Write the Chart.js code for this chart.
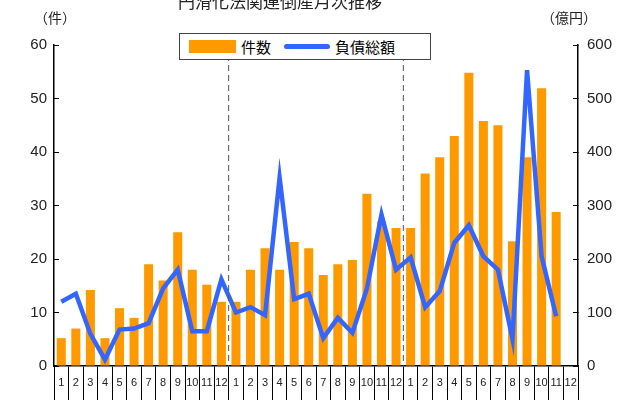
<!DOCTYPE html>
<html><head><meta charset="utf-8">
<script src="https://cdn.jsdelivr.net/npm/chart.js@4"></script>
<style>
body{margin:0;background:#fff;font-family:"Noto Sans CJK JP",sans-serif;}
#wrap{position:relative;width:640px;height:400px;overflow:hidden;}
.t{position:absolute;color:#222;font-size:14px;}
#legend{position:absolute;left:179px;top:33px;width:252px;height:27px;border:1px solid #444;background:#fff;font-size:15px;display:flex;align-items:center;box-sizing:border-box;}
</style></head><body>
<div id="wrap">
<canvas id="c" width="640" height="400"></canvas>
<div class="t" style="left:178px;top:-12px;font-size:17px;">円滑化法関連倒産月次推移</div>
<div class="t" style="left:34px;top:7px;">（件）</div>
<div class="t" style="left:541px;top:7px;">（億円）</div>
<div id="legend">
 <span style="display:inline-block;width:47px;height:13px;background:#ff9900;margin-left:9px;"></span>
 <span style="margin-left:5px;">件数</span>
 <span style="display:inline-block;width:46px;height:5px;border-radius:3px;background:#3366ff;margin-left:13px;"></span>
 <span style="margin-left:5px;">負債総額</span>
</div>
</div>
<script>
const months = [1,2,3,4,5,6,7,8,9,10,11,12,1,2,3,4,5,6,7,8,9,10,11,12,1,2,3,4,5,6,7,8,9,10,11,12].map(String);
const counts = [5.2,7,14.2,5.2,10.8,9,19,16,25,18,15.2,12,
  12,18,22,18,23.2,22,17,19,19.8,32.2,27,25.8,
  25.8,36,39,43,54.8,45.8,45,23.3,39,51.9,28.8,null];
const debt = [120,135,60,12,68,70,80,145,180,65,65,162,
  100,110,95,352,125,135,52,90,62,145,283,180,
  203,110,140,230,263,205,180,50,553,205,93,null];

const yearLines = {
  id: "yearLines",
  afterDatasetsDraw(chart) {
    const {ctx, chartArea, scales} = chart;
    ctx.save();
    ctx.strokeStyle = "#555";
    ctx.lineWidth = 1;
    ctx.setLineDash([6, 4]);
    [11.5, 23.5].forEach(v => {
      const x = (scales.x.getPixelForValue(Math.floor(v)) + scales.x.getPixelForValue(Math.ceil(v))) / 2;
      ctx.beginPath();
      ctx.moveTo(x, chartArea.top);
      ctx.lineTo(x, chartArea.bottom);
      ctx.stroke();
    });
    ctx.restore();
  }
};

const tickFont = {family: "Liberation Sans, sans-serif", size: 15};
new Chart(document.getElementById("c"), {
  data: {
    labels: months,
    datasets: [
      {type: "line", data: debt, yAxisID: "y2", borderColor: "#3366ff", borderWidth: 4.5,
       pointRadius: 0, tension: 0, order: 0},
      {type: "bar", data: counts, yAxisID: "y", backgroundColor: "#ff9900",
       categoryPercentage: 1, barPercentage: 0.62, order: 1}
    ]
  },
  options: {
    responsive: false,
    animation: false,
    layout: {padding: {top: 45}},
    plugins: {legend: {display: false}, tooltip: {enabled: false}},
    scales: {
      x: {
        offset: true,
        grid: {offset: true, drawOnChartArea: false, tickLength: 34, color: "#000"},
        border: {color: "#000", width: 1.5},
        ticks: {color: "#222", font: {size: 11}, padding: -24, maxRotation: 0, autoSkip: false},
        afterFit(s) { s.height = 34; }
      },
      y: {
        position: "left", min: 0, max: 60,
        ticks: {stepSize: 10, color: "#222", font: tickFont, padding: 12},
        grid: {drawOnChartArea: false, tickLength: -5, color: "#000"},
        border: {color: "#000", width: 1.5},
        afterFit(s) { s.width = 54; }
      },
      y2: {
        position: "right", min: 0, max: 600,
        ticks: {stepSize: 100, color: "#222", font: tickFont, padding: 14},
        grid: {drawOnChartArea: false, tickLength: -5, color: "#000"},
        border: {color: "#000", width: 1.5},
        afterFit(s) { s.width = 62; }
      }
    }
  },
  plugins: [yearLines]
});
</script>
</body></html>
